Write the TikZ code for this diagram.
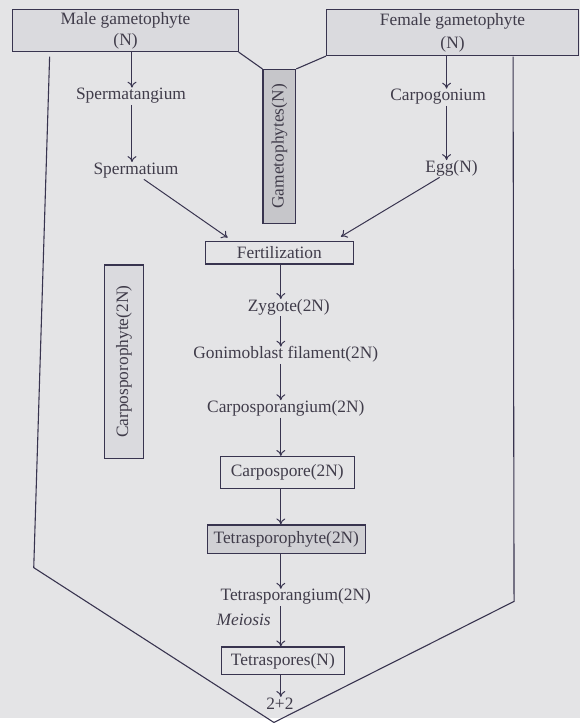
\documentclass[tikz,border=0pt]{standalone}
\usepackage{fontspec}
\setmainfont{Liberation Serif}
\usepackage{graphicx}
\usetikzlibrary{arrows.meta}
\begin{document}
\begin{tikzpicture}[x=1pt,y=-1pt,font=\fontsize{17.5}{21}\selectfont,
  lbl/.style={text=htext,inner sep=1pt,text height=11pt,text depth=4pt},
  hbox/.style={draw=hline,line width=1.1pt,text=htext,inner sep=0pt,align=center},
  arr/.style={draw=hline,line width=1pt,-{To[length=6pt,width=9pt]}},
  frame/.style={draw=hline,line width=1.1pt}]
  \definecolor{hpaper}{HTML}{E4E4E6}
  \definecolor{hline}{HTML}{38344F}
  \definecolor{htext}{HTML}{403C4A}
  \definecolor{hshade}{HTML}{C6C6CA}
  \definecolor{hmid}{HTML}{D0D0D4}
  \definecolor{hlight}{HTML}{DADADE}
  \fill[hpaper] (0,0) rectangle (584,723);
  % outer outline
  \draw[frame] (50,57) -- (34,572) -- (276,728) -- (518,606) -- (517,57);
  % gametophyte boxes
  \node[hbox,fill=hlight,minimum width=227,minimum height=42] (male)
    at (126.5,31) {Male gametophyte\\(N)};
  \node[hbox,fill=hlight,minimum width=254,minimum height=46] (female)
    at (456,33) {Female gametophyte\\[2pt](N)};
  \node[hbox,fill=hshade,minimum width=33,minimum height=155] (gamet)
    at (281.5,147.5) {\rotatebox{90}{Gametophytes(N)}};
  \draw[frame] (male.south east) -- (gamet.north west);
  \draw[frame] (female.south west) -- (gamet.north east);
  \node[hbox,fill=hlight,minimum width=40,minimum height=195] (carpophyte)
    at (125,364.5) {\rotatebox{90}{Carposporophyte(2N)}};
  % male and female branches
  \coordinate (maxis) at (133,0);
  \coordinate (faxis) at (450,0);
  \node[lbl] (spermang) at (132,97) {Spermatangium};
  \node[lbl] (spermat) at (137,172) {Spermatium};
  \node[lbl] (carpog) at (441.5,98) {Carpogonium};
  \node[lbl] (egg) at (455,170) {Egg(N)};
  \draw[arr] (maxis |- male.south) -- (maxis |- spermang.north);
  \draw[arr] (maxis |- spermang.south) -- (maxis |- spermat.north);
  \draw[arr] (faxis |- female.south) -- (faxis |- carpog.north);
  \draw[arr] (faxis |- carpog.south) -- (faxis |- egg.north);
  % main column
  \coordinate (axis) at (283,0);
  \node[hbox,minimum width=149,minimum height=23] (fert) at (281.5,254.5) {Fertilization};
  \draw[arr] ([xshift=8]spermat.south) -- ([xshift=23,yshift=3]fert.north west);
  \draw[arr] ([xshift=-12]egg.south) -- ([xshift=-13,yshift=4]fert.north east);
  \node[lbl] (zygote) at (291,310) {Zygote(2N)};
  \node[lbl] (gonimo) at (288,358) {Gonimoblast filament(2N)};
  \node[lbl] (carposporang) at (288,412) {Carposporangium(2N)};
  \node[hbox,minimum width=135,minimum height=32] (carpospore) at (289.5,476) {Carpospore(2N)};
  \node[hbox,fill=hmid,minimum width=159,minimum height=29] (tetraphyte) at (288.5,543.5) {Tetrasporophyte(2N)};
  \node[lbl] (tetrasporang) at (298,602) {Tetrasporangium(2N)};
  \node[hbox,minimum width=124,minimum height=28] (tetraspores) at (285,666) {Tetraspores(N)};
  \node[lbl] (twotwo) at (282,711) {2+2};
  \foreach \a/\b in {fert/zygote,zygote/gonimo,gonimo/carposporang,
    carposporang/carpospore,carpospore/tetraphyte,tetraphyte/tetrasporang,
    tetrasporang/tetraspores,tetraspores/twotwo}
    \draw[arr] (axis |- \a.south) -- (axis |- \b.north);
  \node[lbl,anchor=east] (meiosis) at (274,627) {\itshape Meiosis};
  \path[use as bounding box] (0,0) rectangle (584,723);
\end{tikzpicture}
\end{document}
